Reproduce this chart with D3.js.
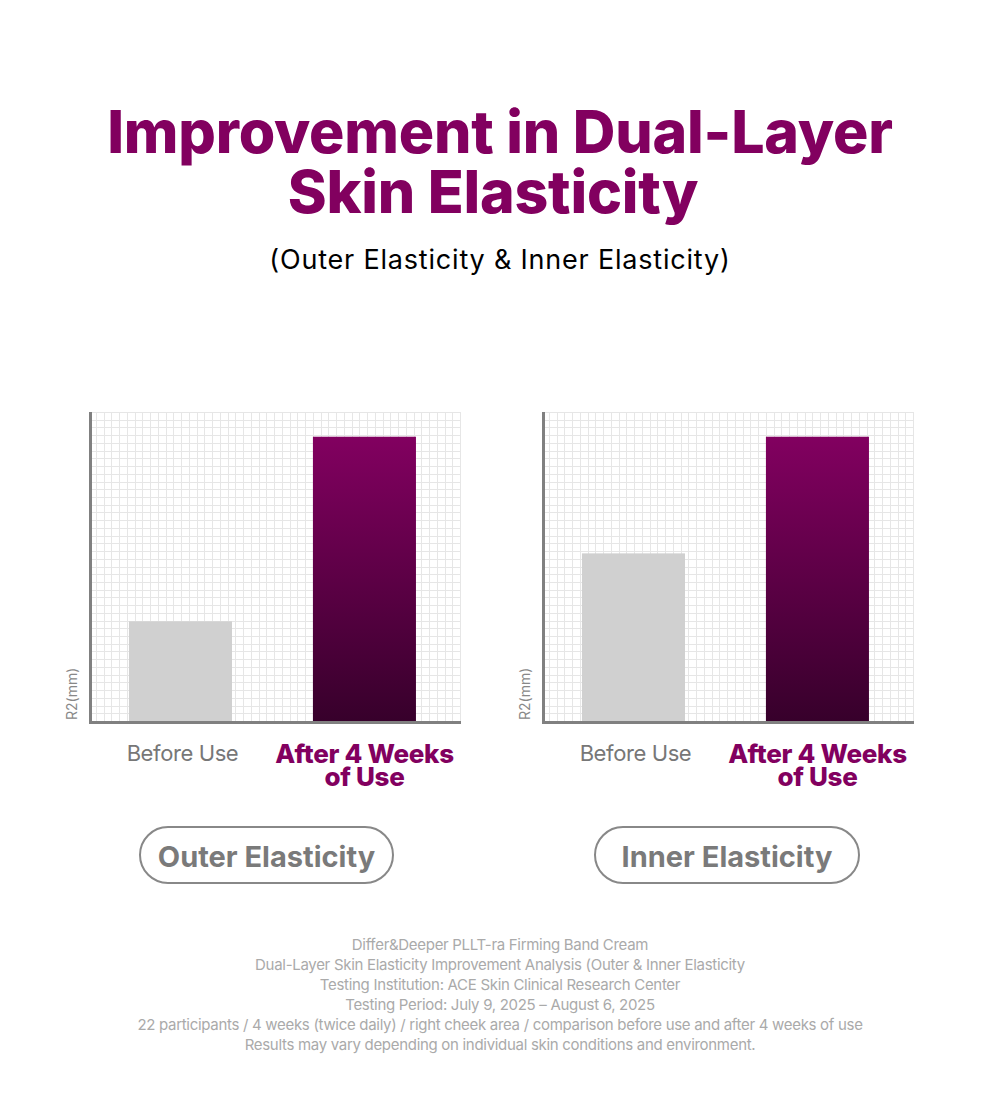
<!DOCTYPE html>
<html>
<head>
<meta charset="utf-8">
<script src="https://cdn.jsdelivr.net/npm/d3@7"></script>
<style>
  html, body { margin: 0; padding: 0; background: #fff; }
  svg { display: block; font-family: Inter, "Noto Sans", sans-serif; }
</style>
</head>
<body>
<div id="chart"></div>
<script>
// ── Data ─────────────────────────────────────────────────────
// No tick values are printed; values are read as grid rows (40 rows = plot height).
const categories   = ['Before Use', 'After 4 Weeks of Use'];
const panels       = ['Outer Elasticity', 'Inner Elasticity'];
const outerValues  = [12.9, 36.8];
const innerValues  = [21.7, 36.8];
const seriesValues = [outerValues, innerValues];
const footerLines  = [
  'Differ&Deeper PLLT-ra Firming Band Cream',
  'Dual-Layer Skin Elasticity Improvement Analysis (Outer & Inner Elasticity',
  'Testing Institution: ACE Skin Clinical Research Center',
  'Testing Period: July 9, 2025 \u2013 August 6, 2025',
  '22 participants / 4 weeks (twice daily) / right cheek area / comparison before use and after 4 weeks of use',
  'Results may vary depending on individual skin conditions and environment.'
];

const PURPLE = '#82005f';
const GRAY   = '#808080';

const W = 1000, H = 1106;
const svg = d3.select('#chart').append('svg')
  .attr('width', W).attr('height', H);

// gradient for the "after" bars
const grad = svg.append('defs').append('linearGradient')
  .attr('id', 'barGrad').attr('x1', 0).attr('y1', 0).attr('x2', 0).attr('y2', 1);
grad.append('stop').attr('offset', '0%').attr('stop-color', '#820060');
grad.append('stop').attr('offset', '100%').attr('stop-color', '#37002b');

// ── Titles ───────────────────────────────────────────────────
// second line sits a little left of centre in the reference (trailing space)
const titleLines = ['Improvement in Dual-Layer', 'Skin Elasticity'];
svg.append('g').selectAll('text').data(titleLines).join('text')
  .attr('x', (d, i) => i === 0 ? W / 2 : W / 2 - 7)
  .attr('y', (d, i) => 153 + i * 60)
  .attr('text-anchor', 'middle')
  .attr('fill', PURPLE).attr('font-size', 59).attr('font-weight', 800)
  .attr('letter-spacing', -0.2)
  .text(d => d);
svg.append('text')
  .attr('x', W / 2).attr('y', 269)
  .attr('text-anchor', 'middle')
  .attr('fill', '#000').attr('font-size', 27).attr('font-weight', 400)
  .attr('letter-spacing', 0.8)
  .text('(Outer Elasticity & Inner Elasticity)');

// ── Panels ───────────────────────────────────────────────────
const plotW = 372, plotH = 309;
const ROWS = 40, COLS = 48;
const panelX = [89, 542];
const plotTop = 412;

const x = d3.scaleBand()
  .domain(categories)
  .range([0, plotW])
  .paddingInner(0.44)
  .paddingOuter(0.231)
  .align(0.47);

const y = d3.scaleLinear().domain([0, ROWS]).range([plotH, 0]);
const gx = d3.scaleLinear().domain([0, COLS]).range([0, plotW]);

panels.forEach((name, p) => {
  const g = svg.append('g').attr('transform', `translate(${panelX[p]},${plotTop})`);
  const vals = seriesValues[p];

  // grid
  const grid = g.append('g').attr('stroke', '#e6e6e6').attr('stroke-width', 1);
  grid.selectAll('line.v').data(d3.range(1, COLS + 1)).join('line')
    .attr('class', 'v')
    .attr('x1', d => Math.round(gx(d)) - 0.5).attr('x2', d => Math.round(gx(d)) - 0.5)
    .attr('y1', 0).attr('y2', plotH);
  grid.selectAll('line.h').data(d3.range(1, ROWS + 1)).join('line')
    .attr('class', 'h')
    .attr('x1', 0).attr('x2', plotW)
    .attr('y1', d => Math.round(y(d)) + 0.5).attr('y2', d => Math.round(y(d)) + 0.5);

  // bars
  g.selectAll('rect.bar').data(categories).join('rect')
    .attr('class', 'bar')
    .attr('x', d => x(d))
    .attr('width', x.bandwidth())
    .attr('y', (d, i) => y(vals[i]))
    .attr('height', (d, i) => plotH - y(vals[i]))
    .attr('fill', (d, i) => i === 0 ? '#d0d0d0' : 'url(#barGrad)');

  // axes
  g.append('rect').attr('x', 0).attr('y', 0).attr('width', 3).attr('height', plotH + 3).attr('fill', GRAY);
  g.append('rect').attr('x', 0).attr('y', plotH).attr('width', plotW).attr('height', 3).attr('fill', GRAY);

  // y label
  g.append('text')
    .attr('transform', `translate(-12,${plotH - 1}) rotate(-90)`)
    .attr('fill', '#888').attr('font-size', 14)
    .text('R2(mm)');

  // category labels
  const cx0 = x(categories[0]) + x.bandwidth() / 2;
  const cx1 = x(categories[1]) + x.bandwidth() / 2;
  g.append('text')
    .attr('x', cx0 + 2).attr('y', plotH + 40)
    .attr('text-anchor', 'middle')
    .attr('fill', '#777').attr('font-size', 22).attr('letter-spacing', -0.4)
    .text(categories[0]);
  const after = g.append('text')
    .attr('text-anchor', 'middle')
    .attr('fill', PURPLE).attr('font-size', 26).attr('font-weight', 800)
    .attr('letter-spacing', -0.3);
  after.append('tspan').attr('x', cx1).attr('y', plotH + 42).text('After 4 Weeks');
  after.append('tspan').attr('x', cx1).attr('y', plotH + 65).text('of Use');

  // pill label
  const pillCx = p === 0 ? 266.5 - panelX[0] : 727 - panelX[1];
  const pw = p === 0 ? 253 : 264;
  g.append('rect')
    .attr('x', pillCx - pw / 2).attr('y', 827 - plotTop)
    .attr('width', pw).attr('height', 56).attr('rx', 28)
    .attr('fill', 'none').attr('stroke', '#888').attr('stroke-width', 2);
  g.append('text')
    .attr('x', pillCx).attr('y', 867 - plotTop)
    .attr('text-anchor', 'middle')
    .attr('fill', '#7a7a7a').attr('font-size', 29).attr('font-weight', 700)
    .attr('letter-spacing', 0)
    .text(name);
});

// ── Footer ───────────────────────────────────────────────────
svg.append('g').selectAll('text').data(footerLines).join('text')
  .attr('x', W / 2)
  .attr('y', (d, i) => 950 + i * 20)
  .attr('text-anchor', 'middle')
  .attr('fill', '#aaa').attr('font-size', 15)
  .attr('letter-spacing', -0.3)
  .text(d => d);
</script>
</body>
</html>
